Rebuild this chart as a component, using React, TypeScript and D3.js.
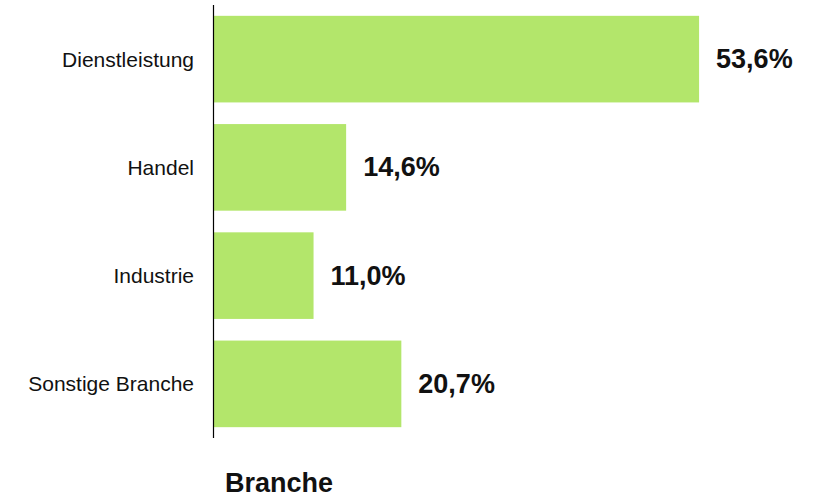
import React from "react";
import * as d3 from "d3";

const categories = ["Dienstleistung", "Handel", "Industrie", "Sonstige Branche"];
const values = [53.6, 14.6, 11.0, 20.7];
const valueLabels = ["53,6%", "14,6%", "11,0%", "20,7%"];
const axisTitle = "Branche";

export default function App() {
  const W = 816, H = 498;
  const axisX = 213.5;
  const y = d3.scaleBand<string>().domain(categories).range([5, 438]).paddingInner(0.2).paddingOuter(0.1);
  const x = d3.scaleLinear().domain([0, 60]).range([214, 214 + 60 * 9.05]);
  const font = "Liberation Sans, Arial, sans-serif";
  return (
    <svg width={W} height={H} style={{ position: "absolute", left: 0, top: 0, background: "#fff" }} fontFamily={font}>
      {categories.map((c, i) => {
        const yy = y(c)!;
        const bw = y.bandwidth();
        return (
          <g key={c}>
            <rect x={x(0)} y={yy} width={x(values[i]) - x(0)} height={bw} fill="#b3e66b" />
            <text x={194} y={yy + bw / 2} textAnchor="end" dominantBaseline="central" fontSize={21} fill="#111">{c}</text>
            <text x={x(values[i]) + 17} y={yy + bw / 2} dominantBaseline="central" fontSize={27} fontWeight="bold" fill="#111">{valueLabels[i]}</text>
          </g>
        );
      })}
      <line x1={axisX} x2={axisX} y1={5} y2={438} stroke="#000" strokeWidth={1.2} />
      <text x={225} y={492} fontSize={27} fontWeight="bold" fill="#111">{axisTitle}</text>
    </svg>
  );
}
